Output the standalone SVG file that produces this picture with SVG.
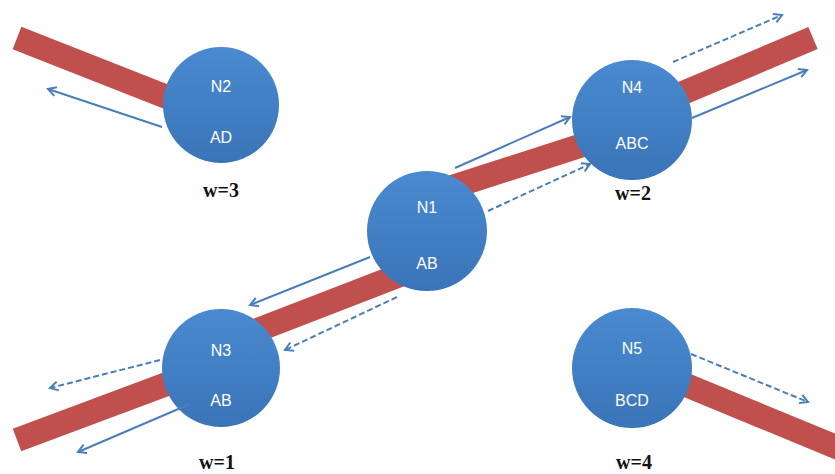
<svg xmlns="http://www.w3.org/2000/svg" width="835" height="474" viewBox="0 0 835 474">
<style>
.bar{stroke:#C0504D;stroke-width:24;fill:none}
.node{fill:url(#g)}
.lbl{font-family:"Liberation Sans","Open Sans",sans-serif;font-size:16px;fill:#ffffff;text-anchor:middle}
.w{font-family:"Liberation Serif",serif;font-size:20px;font-weight:bold;fill:#111;text-anchor:middle}
.arr{stroke:#4A7EBB;stroke-width:2;fill:none;marker-end:url(#ah)}
.dash{stroke-dasharray:6,3}
</style>
<defs>
<linearGradient id="g" x1="0" y1="0" x2="0" y2="1">
<stop offset="0" stop-color="#4A8AD0"/>
<stop offset="1" stop-color="#3A74B8"/>
</linearGradient>
<marker id="ah" markerWidth="12" markerHeight="12" refX="10" refY="6" orient="auto" markerUnits="userSpaceOnUse">
<path d="M2,1.5 L10,6 L2,10.5" fill="none" stroke="#4A7EBB" stroke-width="2"/>
</marker>
</defs>
<g id="bars">
<line class="bar" x1="17" y1="38" x2="205" y2="112"/>
<line class="bar" x1="17" y1="440" x2="215" y2="366"/>
<line class="bar" x1="250" y1="333" x2="400" y2="275"/>
<line class="bar" x1="440" y1="191" x2="620" y2="133"/>
<line class="bar" x1="640" y1="111" x2="813" y2="38"/>
<line class="bar" x1="640" y1="366" x2="870" y2="461"/>
</g>
<g id="N1"><circle class="node" cx="427" cy="231" r="60"/><text class="lbl" x="427" y="213">N1</text><text class="lbl" x="427" y="269">AB</text></g>
<g id="N2"><circle class="node" cx="221" cy="105" r="58"/><text class="lbl" x="221" y="92">N2</text><text class="lbl" x="221" y="143">AD</text></g>
<g id="N3"><circle class="node" cx="221" cy="368" r="59"/><text class="lbl" x="221" y="356">N3</text><text class="lbl" x="221" y="406">AB</text></g>
<g id="N4"><circle class="node" cx="632" cy="120" r="60"/><text class="lbl" x="632" y="93">N4</text><text class="lbl" x="632" y="149">ABC</text></g>
<g id="N5"><circle class="node" cx="632" cy="368" r="60"/><text class="lbl" x="632" y="354">N5</text><text class="lbl" x="632" y="406">BCD</text></g>
<g id="connectors">
<line class="arr" x1="162" y1="127" x2="48" y2="89"/>
<line class="arr" x1="455" y1="168" x2="570" y2="117"/>
<line class="arr dash" x1="488" y1="211" x2="590" y2="164"/>
<line class="arr dash" x1="673" y1="62" x2="782" y2="15"/>
<line class="arr" x1="692" y1="118" x2="807" y2="70"/>
<line class="arr" x1="370" y1="257" x2="250" y2="305"/>
<line class="arr dash" x1="397" y1="297" x2="285" y2="350"/>
<line class="arr dash" x1="160" y1="360" x2="50" y2="388"/>
<line class="arr" x1="190" y1="404" x2="78" y2="452"/>
<line class="arr dash" x1="691" y1="354" x2="808" y2="402"/>
</g>
<g id="weights">
<text class="w" x="221" y="197">w=3</text>
<text class="w" x="633" y="200">w=2</text>
<text class="w" x="217" y="469">w=1</text>
<text class="w" x="634" y="469">w=4</text>
</g>
</svg>
